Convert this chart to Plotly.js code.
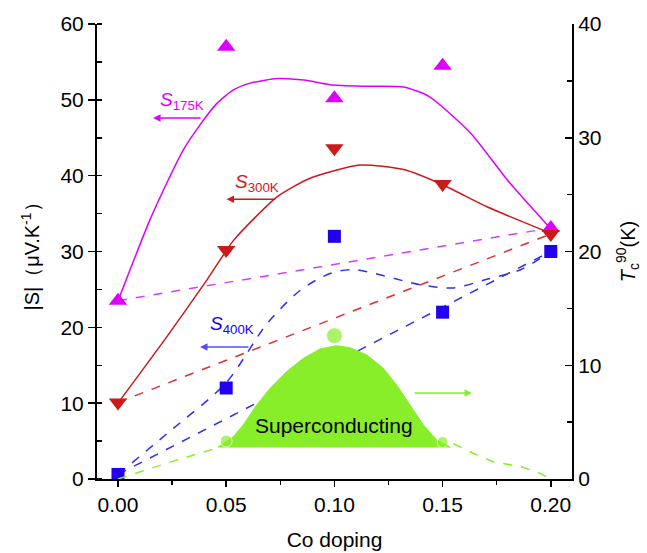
<!DOCTYPE html>
<html>
<head>
<meta charset="utf-8">
<script src="https://cdn.plot.ly/plotly-3.0.1.min.js"></script>
<style>html,body{margin:0;padding:0;background:#fff;}#chart{width:647px;height:553px;}</style>
</head>
<body>
<div id="chart"></div>
<script>
// Measured points
const doping = [0.00, 0.05, 0.10, 0.15, 0.20];
const s175 = [23.5, 57.0, 50.2, 54.5, 33.1];
const s300 = [10.1, 30.2, 43.6, 38.9, 32.3];
const s400 = [0.6, 12.0, 32.0, 22.0, 30.0];

// Guide curves
const fit175X = [0, 0.0148, 0.0225, 0.0302, 0.0379, 0.0456, 0.0533, 0.061, 0.074, 0.086, 0.098, 0.113, 0.132, 0.144, 0.163, 0.18, 0.2];
const fit175Y = [23.5, 34.2, 39.0, 43.4, 46.7, 49.5, 51.3, 52.2, 52.8, 52.6, 52.0, 51.8, 51.7, 50.4, 45.6, 39.4, 33.0];
const fit300X = [0, 0.0227, 0.0412, 0.0535, 0.0735, 0.089, 0.112, 0.132, 0.15, 0.1705, 0.2];
const fit300Y = [10.0, 18.8, 26.3, 31.5, 37.2, 39.7, 41.4, 40.8, 38.8, 35.9, 32.4];
const fit400X = [0, 0.0227, 0.05, 0.0689, 0.0843, 0.098, 0.109, 0.14, 0.155, 0.17, 0.186, 0.2];
const fit400Y = [0.6, 6.0, 12.7, 20.5, 24.9, 27.1, 27.6, 25.6, 25.2, 26.3, 27.6, 30.0];

// Tc (right axis) superconducting dome
const domeX = [0.0462, 0.0533, 0.0579, 0.0641, 0.0703, 0.0780, 0.0857, 0.0934, 0.1011, 0.1073, 0.1150, 0.1226, 0.1288, 0.1350, 0.1411, 0.1473, 0.1535, 0.0462];
const domeTc = [2.81, 3.72, 4.75, 6.51, 7.97, 9.46, 10.61, 11.43, 11.72, 11.54, 10.90, 9.73, 8.26, 6.51, 4.75, 3.43, 2.81, 2.81];
const tcX = [0.05, 0.10, 0.15];
const tcY = [3.34, 12.6, 3.25];
const tcLineX = [0, 0.0227, 0.047, null, 0.155, 0.166, 0.1736, 0.186, 0.195, 0.2];
const tcLineY = [0, 1.4, 2.8, null, 3.1, 2.1, 1.5, 1.1, 0.5, 0];

const MAG = '#dc00ff', RED = '#cc1a1a', BLUE = '#2200ee', GREEN = '#88ee2a';

const traces = [
  {x: tcLineX, y: tcLineY, yaxis: 'y2', mode: 'lines', line: {color: GREEN, width: 1.5, dash: 'dash'}, hoverinfo: 'skip'},
  {x: domeX, y: domeTc, yaxis: 'y2', mode: 'lines', fill: 'toself', fillcolor: GREEN, line: {color: GREEN, width: 1}, hoverinfo: 'skip'},
  {x: tcX, y: tcY, yaxis: 'y2', mode: 'markers', marker: {symbol: 'circle', size: [12, 16, 11], color: GREEN}},
  {x: [doping[0], doping[4]], y: [s175[0], s175[4]], mode: 'lines', line: {color: '#d040ff', width: 1.5, dash: 'dash'}},
  {x: [doping[0], doping[4]], y: [s300[0], s300[4]], mode: 'lines', line: {color: '#dd3030', width: 1.5, dash: 'dash'}},
  {x: [doping[0], doping[4]], y: [s400[0], s400[4]], mode: 'lines', line: {color: '#3030ee', width: 1.5, dash: 'dash'}},
  {x: fit400X, y: fit400Y, mode: 'lines', line: {color: '#3030ee', width: 1.5, dash: 'dash', shape: 'spline', smoothing: 0.8}},
  {x: fit175X, y: fit175Y, mode: 'lines', line: {color: MAG, width: 1.5, shape: 'spline', smoothing: 0.6}},
  {x: fit300X, y: fit300Y, mode: 'lines', line: {color: RED, width: 1.5, shape: 'spline', smoothing: 0.6}},
  {x: doping, y: s175, mode: 'markers', marker: {symbol: 'triangle-up', size: 16, color: MAG}},
  {x: doping, y: s300, mode: 'markers', marker: {symbol: 'triangle-down', size: 16, color: RED}},
  {x: doping, y: s400, mode: 'markers', marker: {symbol: 'square', size: 13, color: BLUE}}
];

const FONT = 'Liberation Sans, Arial, sans-serif';
const xr = [-0.0097, 0.2098];

const layout = {
  width: 647, height: 553,
  margin: {l: 97, r: 75, t: 24, b: 74},
  paper_bgcolor: '#fff', plot_bgcolor: '#fff',
  showlegend: false,
  font: {family: FONT, color: '#000', size: 21},
  xaxis: {
    range: xr, showgrid: false, zeroline: false,
    showline: true, linecolor: '#000', linewidth: 2,
    ticks: 'outside', ticklen: 6, tickwidth: 1.5, tickcolor: '#000',
    tick0: 0, dtick: 0.05, tickformat: '.2f',
    minor: {ticks: 'outside', ticklen: 4, dtick: 0.025, tick0: 0, tickwidth: 1.5, tickcolor: '#000', showgrid: false},
    tickfont: {size: 21, family: FONT},
    title: {text: 'Co doping', font: {size: 21, family: FONT}, standoff: 17}
  },
  xaxis2: {
    range: xr, overlaying: 'x', side: 'top', anchor: 'y',
    showgrid: false, zeroline: false, showline: true, linecolor: '#000', linewidth: 2,
    ticks: 'inside', ticklen: 6, tickwidth: 1.5, tickcolor: '#000',
    tick0: 0, dtick: 0.05, showticklabels: false,
    minor: {ticks: 'inside', ticklen: 4, dtick: 0.025, tick0: 0, tickwidth: 1.5, tickcolor: '#000', showgrid: false}
  },
  yaxis: {
    range: [0, 60], showgrid: false, zeroline: false,
    showline: true, linecolor: '#000', linewidth: 2,
    ticks: 'outside', ticklen: 7, tickwidth: 1.5, tickcolor: '#000',
    tick0: 0, dtick: 10,
    minor: {ticks: 'inside', ticklen: 5, dtick: 5, tick0: 0, tickwidth: 1.5, tickcolor: '#000', showgrid: false},
    tickfont: {size: 21, family: FONT},
    title: {text: '|S|（μV.K<sup>-1</sup>）', font: {size: 20, family: FONT}, standoff: 15}
  },
  yaxis2: {
    range: [0, 40], overlaying: 'y', side: 'right', anchor: 'x',
    showgrid: false, zeroline: false,
    showline: true, linecolor: '#000', linewidth: 2,
    ticks: 'inside', ticklen: 7, tickwidth: 1.5, tickcolor: '#000',
    tick0: 0, dtick: 10,
    minor: {ticks: 'inside', ticklen: 5, dtick: 5, tick0: 0, tickwidth: 1.5, tickcolor: '#000', showgrid: false},
    tickfont: {size: 21, family: FONT},
    title: {text: '<i>T</i><sub>c</sub><sup>90</sup>(K)', font: {size: 20, family: FONT}, standoff: 20}
  },
  annotations: [
    {x: 0.0185, y: 49.8, xref: 'x', yref: 'y', text: '<i>S</i><sub>175K</sub>', showarrow: false, xanchor: 'left', yanchor: 'middle', font: {size: 19, color: MAG}},
    {x: 0.0532, y: 39.0, xref: 'x', yref: 'y', text: '<i>S</i><sub>300K</sub>', showarrow: false, xanchor: 'left', yanchor: 'middle', font: {size: 19, color: RED}},
    {x: 0.0416, y: 20.3, xref: 'x', yref: 'y', text: '<i>S</i><sub>400K</sub>', showarrow: false, xanchor: 'left', yanchor: 'middle', font: {size: 19, color: BLUE}},
    {x: 0.1000, y: 7.1, xref: 'x', yref: 'y', text: 'Superconducting', showarrow: false, xanchor: 'center', yanchor: 'middle', font: {size: 21, color: '#000'}},
    {x: 0.0162, y: 47.6, xref: 'x', yref: 'y', ax: 49, ay: 0, text: '', showarrow: true, arrowhead: 2, arrowsize: 1, arrowwidth: 1.5, arrowcolor: MAG},
    {x: 0.0502, y: 36.9, xref: 'x', yref: 'y', ax: 50, ay: 0, text: '', showarrow: true, arrowhead: 2, arrowsize: 1, arrowwidth: 1.5, arrowcolor: RED},
    {x: 0.0379, y: 17.4, xref: 'x', yref: 'y', ax: 50, ay: 0, text: '', showarrow: true, arrowhead: 2, arrowsize: 1, arrowwidth: 1.5, arrowcolor: '#5050f0'},
    {x: 0.1636, y: 11.34, xref: 'x', yref: 'y', ax: -59, ay: 0, text: '', showarrow: true, arrowhead: 2, arrowsize: 1, arrowwidth: 1.5, arrowcolor: GREEN}
  ]
};

Plotly.newPlot('chart', traces, layout, {displayModeBar: false, staticPlot: true});
</script>
</body>
</html>
